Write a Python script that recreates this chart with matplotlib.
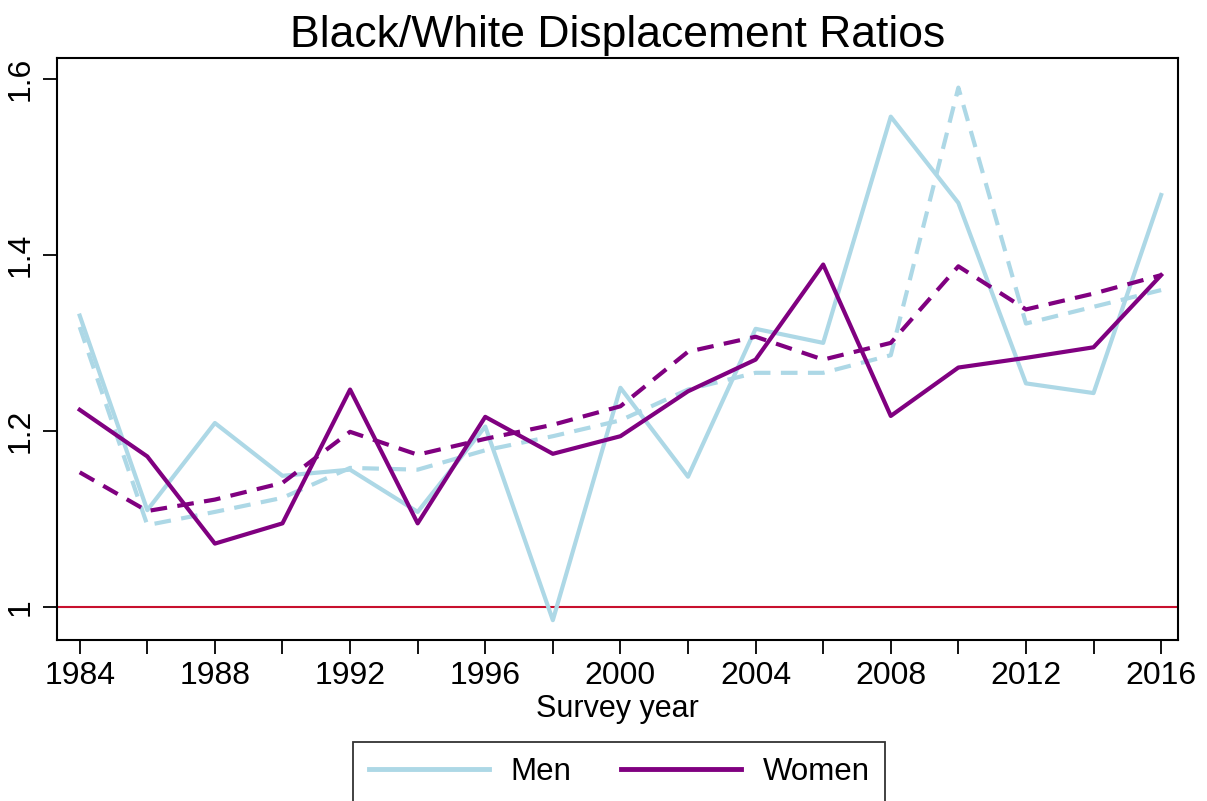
import matplotlib
matplotlib.use("Agg")
import matplotlib.pyplot as plt
from matplotlib.ticker import FuncFormatter

plt.rcParams["font.family"] = ["Liberation Sans", "DejaVu Sans"]

years = list(range(1984, 2017, 2))

men_raw = [1.331, 1.110, 1.209, 1.149, 1.156, 1.108, 1.205, 0.985, 1.249,
           1.148, 1.316, 1.300, 1.557, 1.459, 1.254, 1.243, 1.468]
men_smooth = [1.318, 1.093, 1.108, 1.124, 1.158, 1.156, 1.178, 1.194, 1.212,
              1.247, 1.266, 1.266, 1.286, 1.590, 1.322, 1.341, 1.360]
women_raw = [1.224, 1.171, 1.072, 1.095, 1.247, 1.095, 1.216, 1.174, 1.194,
             1.245, 1.281, 1.389, 1.217, 1.272, 1.283, 1.295, 1.377]
women_smooth = [1.153, 1.109, 1.122, 1.141, 1.199, 1.173, 1.191, 1.207, 1.228,
                1.290, 1.307, 1.281, 1.300, 1.387, 1.338, 1.356, 1.377]

men_color = "#add8e6"
women_color = "#800080"

fig = plt.figure(figsize=(12.07, 8.01), dpi=100)
ax = fig.add_axes([0.047, 0.201, 0.929, 0.727])

ax.axhline(1.0, color="#c8102e", lw=1.5, zorder=1)

ax.plot(years, men_raw, color=men_color, lw=3, label="Men", zorder=2)
ax.plot(years, men_smooth, color=men_color, lw=3, ls=(0, (4, 2.5)), zorder=2)
ax.plot(years, women_raw, color=women_color, lw=3, label="Women", zorder=3)
ax.plot(years, women_smooth, color=women_color, lw=3, ls=(0, (4, 2.5)), zorder=3)

ax.set_xlim(1983.32, 2016.5)
ax.set_ylim(0.9625, 1.624)

ax.set_xticks(range(1984, 2017, 4))
ax.set_xticks(range(1984, 2017, 2), minor=True)
ax.set_yticks([1.0, 1.2, 1.4, 1.6])
ax.yaxis.set_major_formatter(FuncFormatter(lambda v, p: f"{v:g}"))

ax.tick_params(axis="x", which="both", direction="out", length=10, width=1.3,
               labelsize=23, pad=5)
ax.tick_params(axis="y", direction="out", length=10, width=1.3,
               labelsize=23, pad=5)
for lab in ax.get_yticklabels():
    lab.set_rotation(90)
    lab.set_va("center")

for s in ax.spines.values():
    s.set_linewidth(1.5)
    s.set_color("black")

ax.set_xlabel("Survey year", fontsize=22, labelpad=2)
ax.set_title("Black/White Displacement Ratios", fontsize=32, pad=8)

handles, labels = ax.get_legend_handles_labels()
leg = fig.legend(handles, labels, loc="center", bbox_to_anchor=(0.513, 0.036),
                 ncol=2, fontsize=22.5, frameon=True, fancybox=False,
                 edgecolor="black", handlelength=3.85, handletextpad=0.68,
                 columnspacing=1.6, borderpad=0.5, borderaxespad=0)
leg.get_frame().set_linewidth(1.3)
for h in leg.legend_handles:
    h.set_linewidth(3.5)

fig.savefig("out.png", dpi=100)
